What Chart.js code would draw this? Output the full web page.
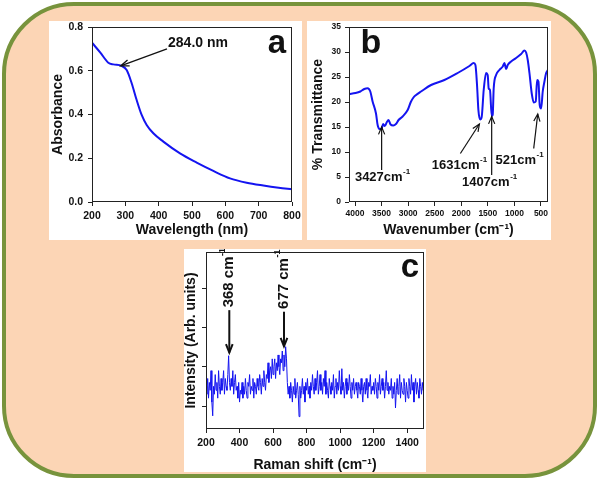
<!DOCTYPE html>
<html lang="en">
<head>
<meta charset="utf-8">
<script src="https://cdn.jsdelivr.net/npm/chart.js"></script>
<title>UV-Vis, FTIR and Raman</title>
<style>
    html, body { margin: 0; padding: 0; background: #fff; }
    body { width: 600px; height: 481px; position: relative; overflow: hidden; }
    #frame {
        position: absolute; left: 2px; top: 2px;
        width: 587px; height: 468px;
        border: 4px solid #77933c; border-radius: 72px;
        background: #fcd5b5;
    }
    .panel { position: absolute; background: #fff; }
    #pa { left: 49px; top: 21px; }
    #pb { left: 307px; top: 21px; }
    #pc { left: 184px; top: 249px; }
    canvas { display: block; }
</style>
</head>
<body>
<div id="frame"></div>
<div class="panel" id="pa"><canvas id="ca" width="253" height="219"></canvas></div>
<div class="panel" id="pb"><canvas id="cb" width="244" height="219"></canvas></div>
<div class="panel" id="pc"><canvas id="cc" width="242" height="223"></canvas></div>
<script>
    // (a) UV-Vis
    var uvWavelength = [200, 225, 249, 264, 289, 304, 319, 334, 349, 364, 384, 414, 464, 514, 564, 614, 664, 714, 760, 800];
    var uvAbsorbance = [0.728, 0.683, 0.637, 0.629, 0.622, 0.603, 0.543, 0.466, 0.398, 0.352, 0.314, 0.276, 0.222, 0.180, 0.142, 0.108, 0.088, 0.075, 0.065, 0.058];

    // (b) FTIR
    var ftirWavenumber = [4110, 3990, 3900, 3825, 3763, 3712, 3669, 3605, 3574, 3540, 3500, 3470, 3440, 3400, 3370, 3330, 3280, 3230, 3180, 3104,
        3009, 2950, 2900, 2851, 2757, 2569, 2318, 2068, 1847, 1766, 1734, 1702, 1678, 1646, 1616, 1578, 1533, 1503, 1484, 1460,
        1427, 1409, 1390, 1345, 1283, 1220, 1188, 1156, 1126, 1062, 968, 874, 812, 780, 749, 717, 674, 636, 599, 573,
        548, 524, 497, 467, 435, 403, 370];
    var ftirTransmittance = [21.6, 21.8, 22.1, 22.6, 22.75, 22.1, 20.1, 17.7, 15.4, 14.6, 14.7, 15.6, 15.2, 16.0, 16.4, 15.5, 15.3, 15.6, 16.4, 17.1,
        18.4, 20.0, 20.9, 21.4, 22.1, 23.4, 24.4, 25.8, 27.2, 27.8, 27.4, 23.1, 18.4, 16.5, 17.0, 22.4, 25.8, 25.4, 22.7, 22.4,
        17.2, 17.4, 22.7, 25.4, 26.4, 27.1, 27.8, 26.6, 27.4, 28.1, 28.8, 29.6, 30.3, 29.9, 28.4, 25.8, 21.7, 19.9, 20.1, 24.4,
        24.1, 19.4, 18.7, 22.1, 24.1, 25.8, 26.4];
    var ftirTicks = [4000, 3500, 3000, 2500, 2000, 1500, 1000, 500];

    // (c) Raman, one reading every 5 cm-1 from 200 to 1500
    var ramanIntensity = [
        1.5, 1.3, 1.7, 1.2, 1.6, 1.4, 1.9, 1.1, 0.75, 1.5, 1.3, 1.8, 1.4, 1.6, 1.2, 1.9, 1.5, 1.3, 1.7, 1.4,
        1.6, 1.9, 1.3, 1.7, 1.5, 1.4, 1.8, 2.28, 1.6, 1.4, 1.7, 1.5, 1.9, 1.3, 1.6, 1.8, 1.4, 1.5, 1.2, 1.6,
        1.1, 1.4, 1.3, 1.6, 1.2, 1.5, 1.3, 1.7, 1.4, 1.2, 1.6, 1.5, 1.8, 1.3, 1.5, 1.4, 1.7, 1.2, 1.6, 1.5,
        1.3, 1.7, 1.5, 1.4, 1.8, 1.6, 1.3, 1.7, 1.5, 1.9, 1.6, 1.4, 1.8, 1.7, 2.1, 1.6, 1.9, 2.0, 1.7, 2.2,
        1.8, 2.0, 2.2, 1.7, 2.1, 1.9, 2.3, 2.0, 1.8, 2.2, 2.1, 2.4, 1.9, 2.3, 2.0, 2.51, 2.2, 1.6, 1.3, 1.5,
        1.2, 1.6, 1.4, 1.1, 1.5, 1.3, 1.7, 1.2, 1.4, 1.6, 1.3, 0.73, 1.5, 1.2, 1.4, 1.7, 1.3, 1.5, 1.1, 1.6,
        1.4, 1.7, 1.3, 1.5, 1.2, 1.6, 1.4, 1.8, 1.5, 1.3, 1.7, 1.4, 1.6, 1.9, 1.3, 1.5, 1.8, 1.4, 1.6, 1.3,
        1.7, 1.5, 1.9, 1.3, 1.6, 1.4, 1.2, 1.7, 1.5, 1.3, 1.6, 1.4, 1.8, 1.2, 1.5, 1.7, 1.3, 1.6, 1.4, 1.9,
        1.5, 1.3, 1.95, 1.4, 1.6, 1.2, 1.5, 1.7, 1.3, 1.6, 1.4, 1.8, 1.5, 1.2, 1.6, 1.4, 1.7, 1.3, 1.5, 1.6,
        1.4, 1.2, 1.6, 1.5, 1.3, 1.7, 1.4, 1.1, 1.5, 1.6, 1.3, 1.7, 1.4, 1.2, 1.6, 1.5, 1.8, 1.3, 1.5, 1.4,
        1.6, 1.3, 1.7, 1.5, 1.2, 1.6, 1.4, 1.8, 1.3, 1.5, 1.7, 1.4, 1.6, 1.2, 1.5, 1.9, 1.4, 1.6, 1.3, 1.5,
        1.4, 1.7, 1.2, 1.5, 1.3, 1.6, 0.95, 1.4, 1.7, 1.3, 1.5, 1.8, 1.2, 1.6, 1.4, 1.3, 1.7, 1.5, 1.1, 1.6,
        1.4, 1.2, 1.7, 1.5, 1.3, 1.8, 1.4, 1.6, 1.1, 1.5, 1.7, 1.3, 1.6, 1.4, 1.2, 1.7, 1.5, 1.3, 1.6, 1.4,
        1.5];
    var ramanShift = [];
    for (var i = 0; i < ramanIntensity.length; i++) ramanShift.push(200 + 5 * i);
    var ramanXTicks = [200, 400, 600, 800, 1000, 1200, 1400];
    var ramanYTicks = [1, 2, 3, 4];

    var FONT = '"Liberation Sans", Arial, sans-serif';
    var BLUE = '#1414f0';

    function pairs(xs, ys) {
        return ys.map(function (v, i) { return { x: xs[i], y: v }; });
    }

    function plain(v) { return String(v); }

    function drawArrow(ctx, x1, y1, x2, y2, head, spread) {
        ctx.beginPath();
        ctx.moveTo(x1, y1);
        ctx.lineTo(x2, y2);
        ctx.stroke();
        var a = Math.atan2(y2 - y1, x2 - x1);
        ctx.beginPath();
        ctx.moveTo(x2 - head * Math.cos(a - spread), y2 - head * Math.sin(a - spread));
        ctx.lineTo(x2, y2);
        ctx.lineTo(x2 - head * Math.cos(a + spread), y2 - head * Math.sin(a + spread));
        ctx.stroke();
    }

    // text with an optional superscript
    function drawLabel(ctx, n, x, y) {
        var big = 'bold ' + n.size + 'px ' + FONT;
        var small = 'bold ' + Math.round(n.size * 0.62) + 'px ' + FONT;
        ctx.font = big;
        var w1 = ctx.measureText(n.text).width;
        var w2 = 0;
        if (n.sup) { ctx.font = small; w2 = ctx.measureText(n.sup).width; }
        ctx.save();
        ctx.translate(x, y);
        if (n.rot) ctx.rotate(-Math.PI / 2);
        var x0 = n.rot ? 2 : -(w1 + w2) / 2;
        ctx.textAlign = 'left';
        ctx.textBaseline = n.baseline || 'middle';
        ctx.font = big;
        ctx.fillText(n.text, x0, 0);
        if (n.sup) {
            ctx.font = small;
            ctx.fillText(n.sup, x0 + w1 + 0.5, -n.size * 0.42);
        }
        ctx.restore();
    }

    var notesPlugin = {
        id: 'notes',
        afterDraw: function (chart, args, opts) {
            var ctx = chart.ctx, xs = chart.scales.x, ys = chart.scales.y, a = chart.chartArea;
            ctx.save();
            ctx.strokeStyle = '#222';
            ctx.lineWidth = 1;
            ctx.strokeRect(Math.round(a.left) + 0.5, Math.round(a.top) + 0.5,
                Math.round(a.right - a.left) - 1, Math.round(a.bottom - a.top) - 1);
            ctx.fillStyle = '#111';
            ctx.strokeStyle = '#111';
            (opts.items || []).forEach(function (n) {
                if (n.from) {
                    ctx.lineWidth = n.width || 1.2;
                    drawArrow(ctx, xs.getPixelForValue(n.from[0]), ys.getPixelForValue(n.from[1]),
                        xs.getPixelForValue(n.to[0]), ys.getPixelForValue(n.to[1]), n.head || 8, n.spread || 0.4);
                } else {
                    drawLabel(ctx, n, xs.getPixelForValue(n.x), ys.getPixelForValue(n.y));
                }
            });
            ctx.restore();
        }
    };

    function axisTitle(text, pad, lh) {
        return { display: true, text: text, color: '#111', padding: pad,
            font: { family: FONT, size: 14, weight: 'bold', lineHeight: lh || 1.2 } };
    }

    function makeChart(id, data, lineWidth, mode, xScale, yScale, pad, notes) {
        return new Chart(document.getElementById(id), {
            type: 'line',
            data: { datasets: [{ data: data, borderColor: BLUE, borderWidth: lineWidth, pointRadius: 0,
                fill: false, cubicInterpolationMode: mode ? 'monotone' : 'default', tension: 0 }] },
            options: {
                responsive: false,
                animation: false,
                events: [],
                layout: { padding: pad },
                plugins: { legend: { display: false }, tooltip: { enabled: false }, notes: { items: notes } },
                scales: { x: xScale, y: yScale }
            },
            plugins: [notesPlugin]
        });
    }

    function grid() {
        return { display: true, drawOnChartArea: false, drawTicks: true, tickLength: 4, color: '#222' };
    }

    function fixWidth(w) {
        return function (s) { s.width = w; s.paddingTop = 0; s.paddingBottom = 0; };
    }
    function fixHeight(h) {
        return function (s) { s.height = h; s.paddingLeft = 0; s.paddingRight = 0; };
    }

    // (a)
    makeChart('ca', pairs(uvWavelength, uvAbsorbance), 2, true,
        { type: 'linear', min: 200, max: 800, grid: grid(), border: { display: false },
          ticks: { stepSize: 100, padding: 4, color: '#111', font: { family: FONT, size: 10.5, weight: 'bold' }, callback: plain },
          title: axisTitle('Wavelength (nm)', { top: 0, bottom: 1 }), afterFit: fixHeight(38) },
        { type: 'linear', min: 0, max: 0.8, grid: grid(), border: { display: false },
          ticks: { stepSize: 0.2, padding: 5, color: '#111', font: { family: FONT, size: 10.5, weight: 'bold' },
                   callback: function (v) { return v.toFixed(1); } },
          title: axisTitle('Absorbance', { top: 1, bottom: 0 }), afterFit: fixWidth(43) },
        { left: 0, top: 6, right: 10, bottom: 0 },
        [
            { from: [425, 0.70], to: [286, 0.622], width: 1.3, head: 9, spread: 0.35 },
            { text: '284.0 nm', x: 518, y: 0.727, size: 14 },
            { text: 'a', x: 755, y: 0.68, size: 33, baseline: 'alphabetic' }
        ]);

    // (b)
    makeChart('cb', pairs(ftirWavenumber, ftirTransmittance), 2, true,
        { type: 'linear', min: 368, max: 4113, reverse: true, grid: grid(), border: { display: false },
          afterBuildTicks: function (s) { s.ticks = ftirTicks.map(function (v) { return { value: v }; }); },
          ticks: { padding: 3, color: '#111', font: { family: FONT, size: 8.5, weight: 'bold' }, callback: plain },
          title: axisTitle('Wavenumber (cm\u207B\u00B9)', { top: 0, bottom: 1 }), afterFit: fixHeight(38) },
        { type: 'linear', min: 0, max: 35, grid: grid(), border: { display: false },
          ticks: { stepSize: 5, padding: 4, color: '#111', font: { family: FONT, size: 8.5, weight: 'bold' }, callback: plain },
          title: axisTitle('% Transmittance', { top: 3, bottom: 0 }), afterFit: fixWidth(42) },
        { left: 0, top: 6, right: 3, bottom: 0 },
        [
            { from: [3499, 6.4], to: [3499, 15.0] },
            { text: '3427cm', sup: '-1', x: 3486, y: 5.0, size: 13 },
            { from: [2017, 9.7], to: [1659, 15.6] },
            { text: '1631cm', sup: '-1', x: 2038, y: 7.4, size: 13 },
            { from: [1428, 5.4], to: [1428, 17.1] },
            { text: '1407cm', sup: '-1', x: 1472, y: 3.9, size: 13 },
            { from: [637, 10.7], to: [561, 17.6] },
            { text: '521cm', sup: '-1', x: 908, y: 8.4, size: 13 },
            { text: 'b', x: 3699, y: 29.8, size: 34, baseline: 'alphabetic' }
        ]);

    // (c)
    makeChart('cc', pairs(ramanShift, ramanIntensity), 1, false,
        { type: 'linear', min: 200, max: 1500, grid: grid(), border: { display: false },
          afterBuildTicks: function (s) { s.ticks = ramanXTicks.map(function (v) { return { value: v }; }); },
          ticks: { padding: 4, color: '#111', font: { family: FONT, size: 10.5, weight: 'bold' }, callback: plain },
          title: axisTitle('Raman shift (cm\u207B\u00B9)', { top: 0, bottom: 0 }, 1), afterFit: fixHeight(43) },
        { type: 'linear', min: 0.415, max: 4.92, grid: grid(), border: { display: false },
          afterBuildTicks: function (s) { s.ticks = ramanYTicks.map(function (v) { return { value: v }; }); },
          ticks: { padding: 0, callback: function () { return ''; } },
          title: axisTitle('Intensity (Arb. units)', { top: 0, bottom: 0 }, 1), afterFit: fixWidth(22) },
        { left: 0, top: 3, right: 2, bottom: 0 },
        [
            { from: [339, 3.44], to: [339, 2.36], width: 2, head: 9, spread: 0.38 },
            { text: '368 cm', sup: '-1', x: 339, y: 3.46, size: 15, rot: true },
            { from: [665, 3.40], to: [665, 2.52], width: 2, head: 9, spread: 0.38 },
            { text: '677 cm', sup: '-1', x: 665, y: 3.42, size: 15, rot: true },
            { text: 'c', x: 1416, y: 4.29, size: 33, baseline: 'alphabetic' }
        ]);
</script>
</body>
</html>
